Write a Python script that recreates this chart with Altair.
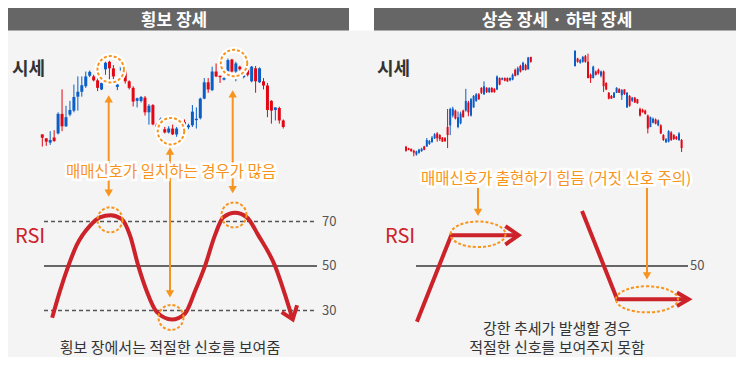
import altair as alt
import pandas as pd
import numpy as np

# ---------------- data ----------------
# Left panel (sideways market): candle index and OHLC (price units)
L_T = list(range(0, 35)) + list(range(36, 62))
L_OPEN = [13.3, 9.3, 11, 10, 37.7, 25, 34.3, 41.7, 55, 60.3, 67, 76, 80.7, 72, 64.3, 69.3, 90, 84.3, 76, 67.7, 86,
          71, 64.3, 50.3, 53.7, 55, 39.3, 46, 27, 24.3, 32.7, 18.7, 22.7, 16.7, 22.7,
          24.3, 26, 40, 32.7, 53.3, 70,
          62.7, 81, 76, 75.3, 74.3, 92.7, 81, 89.3, 83.3, 77, 77.7, 86, 71, 84.3, 66.7, 41.7, 41, 44.3, 31, 24.3]
L_CLOSE = [16.7, 12.7, 8.3, 13.5, 17.7, 37.7, 25, 37, 41, 55.3, 60.3, 66, 76.7, 76, 72, 62.7, 83.3, 91, 84.3, 65.3, 82,
           83.3, 71, 64.3, 51, 51, 54.3, 39.3, 46.7, 26.7, 31, 22, 18.7, 22.7, 16.7,
           29.3, 24, 26, 31.3, 33.3, 53.3,
           70, 62, 81, 76.7, 72.7, 81, 93.3, 81, 86, 75.3, 86, 71, 84.3, 70, 71, 66.7, 51, 41.7, 43.7, 31]
L_HIGH = [16.7, 12.7, 20, 21, 39.3, 62.7, 46, 51, 67.7, 76, 76, 81, 82, 77.7, 74.3, 72.7, 91, 92, 87.7, 68.7, 87,
          84.3, 72, 66, 54.3, 56, 56, 47.7, 47.7, 28, 34, 24.3, 25, 26.7, 24.3,
          32, 27.7, 46.7, 44.3, 54.3, 74.3,
          74.3, 86, 89.3, 76.7, 75, 94.3, 94, 91, 87, 78, 87.7, 86.7, 86.7, 85.3, 74.3, 69.3, 51.7, 44.3, 45, 32]
L_LOW = [4.3, 5, 6, 9, 16.7, 20, 24.3, 35.3, 39.3, 41, 55.3, 64.3, 75.3, 71, 61, 62, 77.7, 71, 71, 62, 79,
         68.7, 62.7, 45.3, 44.3, 49.3, 36, 26.7, 26, 23, 30, 17.7, 17.7, 16, 14.3,
         22.7, 22, 24.3, 22.7, 32, 52.7,
         59.3, 61, 75.3, 69.3, 72, 79.3, 80, 71, 82, 74, 76, 70, 59.3, 69.3, 62.7, 34.3, 27.7, 31, 27.7, 22.7]

# Right panel (trending market): up-trend candles then down-trend candles
R_K = list(range(0, 49)) + list(range(65, 107))
R_OPEN = [10, 11, 9.5, 8, 9.3, 11, 12, 11, 21, 20, 23.3, 26.7, 22.7, 22, 19.3, 20, 26, 52.7, 53, 43, 44.3, 48, 44.3,
          61, 49.3, 62.7, 66, 67.7, 62.7, 69.3, 76, 70, 74, 70, 70, 86, 77.7, 84.3, 81.7, 81, 84.3, 87.7, 86.7, 94.3,
          91, 100, 92.7, 105.3, 101,
          112, 101, 102.7, 106, 101, 84.3, 84.3, 96, 87.7, 89.3, 91, 76, 72.7, 63.3, 63.3, 69.3, 74.3, 69.3, 72, 68,
          69.3, 56, 64.3, 59.3, 58.7, 46, 49.3, 47.7, 32.7, 44.3, 42.7, 37.7, 41, 27.7, 21, 21.7, 30, 21, 22, 22,
          27.7, 12.7]
R_CLOSE = [14, 12.5, 12, 10, 6, 8, 9.5, 14.3, 14.3, 17, 19, 22.7, 27.7, 26, 23.3, 22.7, 34.3, 36, 46, 51, 34.3, 38,
           51, 51, 59.3, 46, 54.3, 61, 67.7, 74.3, 67.7, 74.3, 70, 74.3, 73.3, 72.7, 84.3, 82.7, 84.3, 84.3, 82,
           82.7, 92.7, 87.7, 96.7, 92.7, 97.7, 93.3, 106,
           96.7, 104.3, 100, 101, 106.7, 101, 87.7, 84.3, 91, 92.7, 86.7, 91, 79.3, 69.3, 66, 64.3, 69.3, 73, 66.7,
           72.7, 54.3, 66, 61, 64.3, 62.7, 52.7, 52, 51, 46, 34.3, 38.7, 42, 36, 36, 26, 18.7, 19.3, 28.7, 26, 24.3,
           21, 21]
R_HIGH = [15, 13, 12, 11, 10, 12, 13, 15, 23, 21, 25, 28, 29, 27, 24, 24, 52.7, 54, 55, 52, 50, 50, 52, 73.3, 61,
          64, 67, 69, 69, 75, 81, 75, 75, 75, 74, 87, 85, 85, 85, 85, 85, 89, 94, 96, 98, 101, 99, 106, 106,
          113, 105, 104, 107, 108, 109.3, 89, 97, 92, 94, 92, 92, 80, 70, 67, 70, 75, 74, 73, 73, 70, 67, 65, 65,
          63, 54, 53, 52, 47, 45, 44, 43, 42, 37, 27, 23, 31, 30, 27, 25, 29, 22]
R_LOW = [9, 10.5, 9, 4.3, 5, 7, 9, 10.5, 14, 16, 18, 22, 19.3, 20, 19, 19, 12.7, 26, 44, 42, 33, 37, 44, 50, 45.3,
         45, 54, 60, 62, 68, 67, 69, 69, 69.3, 69.3, 72, 77, 82, 81, 80.5, 81, 82, 86, 87, 90, 92, 92, 93, 100,
         96, 100, 99, 100, 100, 84, 79.3, 84, 87, 88, 85, 70, 72, 62.5, 63, 64, 69, 69, 62, 67, 54, 55, 60, 59,
         58, 45, 49, 47, 27.7, 34, 38, 37, 35, 27, 20, 18, 18.5, 20, 21, 21, 20, 8.7]

# RSI curve of the left panel (on the candle index axis)
RSI_L_T = [2.5, 4.5, 6.6, 8.7, 12.1, 14.6, 17.3, 20.1, 22.2, 24.3, 26.4, 29.0, 32.8, 36.1, 38.7, 41.2,
           43.7, 45.8, 48.8, 51.8, 54.7, 58.9, 61.4, 63.4]
RSI_L_V = [26.8, 39.0, 50.1, 59.4, 68.2, 71.9, 72.9, 71.1, 63.8, 50.1, 38.9, 29.3, 26.0, 28.6, 38.9, 50.1,
           63.8, 71.9, 74.0, 71.9, 63.8, 50.1, 37.4, 26.0]
RSI_L_HEAD_T = [60.6, 63.4, 64.5]
RSI_L_HEAD_V = [29.3, 26.0, 32.4]

# RSI of the right panel: rising line that goes flat, falling line that goes flat
RSI_R_K = [4.2, 17.4, 43.3, 38.2, 43.3, 38.2, 67.7, 81.2, 108.7, 104.2, 108.7, 104.2]
RSI_R_V = [25.0, 63.9, 63.9, 68.0, 63.9, 59.7, 74.8, 35.1, 35.1, 38.1, 35.1, 32.0]
RSI_R_SEG = [0, 0, 0, 1, 1, 1, 2, 2, 2, 3, 3, 3]

RSI_LEVELS = [70, 50, 30]

# texts
HEADERS = ["횡보 장세", "상승 장세 · 하락 장세"]
PRICE_LABEL = "시세"
RSI_LABEL = "RSI"
NOTE_LEFT = "매매신호가 일치하는 경우가 많음"
NOTE_RIGHT = "매매신호가 출현하기 힘듬 (거짓 신호 주의)"
BOTTOM_LEFT = ["횡보 장에서는 적절한 신호를 보여줌"]
BOTTOM_RIGHT = ["강한 추세가 발생할 경우", "적절한 신호를 보여주지 못함"]

# ---------------- styling / layout ----------------
FONT = "Noto Sans CJK KR"
RED, BLUE = "#e30613", "#0a5ec8"
RSI_RED, ORANGE = "#cc2229", "#f7941d"
BG, HEADER_C, DARK, GRID = "#f4f4f4", "#666666", "#333333", "#555555"
W, H = 728, 349

# picture frame (pixel grid of the reference), used for annotations
Y_TOP, Y_BOT = 4, 361
XL = alt.Scale(domain=[8, 736], nice=False, zero=False)
YL = alt.Scale(domain=[Y_TOP, Y_BOT], reverse=True, nice=False, zero=False)
# data scales aligned to that frame
LT0, LDT = 42.3, 3.95
RT0, RDT = 406.0, 2.6
LTX = alt.Scale(domain=[(8 - LT0) / LDT, (736 - LT0) / LDT], nice=False, zero=False)
RTX = alt.Scale(domain=[(8 - RT0) / RDT, (736 - RT0) / RDT], nice=False, zero=False)
LPY = alt.Scale(domain=[150 - Y_BOT, 150 - Y_TOP], nice=False, zero=False)
RPY = alt.Scale(domain=[160 - Y_BOT, 160 - Y_TOP], nice=False, zero=False)
RSIY = alt.Scale(domain=[50 + (268 - Y_BOT) / 2.275, 50 + (268 - Y_TOP) / 2.275], nice=False, zero=False)


def fx(f, s=XL):
    return alt.X(f"{f}:Q", scale=s, axis=None)


def fy(f, s=YL):
    return alt.Y(f"{f}:Q", scale=s, axis=None)


layers = []

# headers
hdr = pd.DataFrame({"x": [8, 374, 349], "x2": [349, 736, 374], "y": [Y_TOP] * 3, "y2": [27, 27, 27],
                    "c": [HEADER_C, HEADER_C, "#ffffff"]})
layers.append(alt.Chart(hdr).mark_rect().encode(x=fx("x"), x2="x2", y=fy("y"), y2="y2",
                                                 color=alt.Color("c:N", scale=None)))
hdr_t = pd.DataFrame({"x": [174, 557], "y": [17, 17], "text": HEADERS})
layers.append(alt.Chart(hdr_t).mark_text(font=FONT, fontSize=17, fontWeight="bold", color="white",
                                         baseline="middle").encode(x=fx("x"), y=fy("y"), text="text:N"))

# side labels
lab = pd.DataFrame({"x": [12, 377], "y": [67, 67], "text": [PRICE_LABEL, PRICE_LABEL]})
layers.append(alt.Chart(lab).mark_text(font=FONT, fontSize=18, fontWeight="bold", color=DARK, align="left",
                                       baseline="middle").encode(x=fx("x"), y=fy("y"), text="text:N"))
rlab = pd.DataFrame({"x": [15, 385], "y": [238, 238], "text": [RSI_LABEL, RSI_LABEL]})
layers.append(alt.Chart(rlab).mark_text(font=FONT, fontSize=20, color=RSI_RED, align="left",
                                        baseline="middle").encode(x=fx("x"), y=fy("y"), text="text:N"))

# RSI reference lines
lv = pd.DataFrame({"level": RSI_LEVELS, "t1": [(44 - LT0) / LDT] * 3, "t2": [(317 - LT0) / LDT] * 3,
                   "lbl": [str(v) for v in RSI_LEVELS], "tl": [(322 - LT0) / LDT] * 3})
layers.append(alt.Chart(lv[lv.level != 50]).mark_rule(color=GRID, strokeWidth=1.5, strokeDash=[4, 3]).encode(
    x=fx("t1", LTX), x2="t2", y=fy("level", RSIY)))
layers.append(alt.Chart(lv[lv.level == 50]).mark_rule(color="#666666", strokeWidth=2).encode(
    x=fx("t1", LTX), x2="t2", y=fy("level", RSIY)))
layers.append(alt.Chart(lv).mark_text(font=FONT, fontSize=13, color=GRID, align="left", baseline="middle").encode(
    x=fx("tl", LTX), y=fy("level", RSIY), text="lbl:N"))
rv = pd.DataFrame({"level": [50], "k1": [(416 - RT0) / RDT], "k2": [(688 - RT0) / RDT],
                   "kl": [(690 - RT0) / RDT], "lbl": ["50"]})
layers.append(alt.Chart(rv).mark_rule(color="#666666", strokeWidth=2).encode(
    x=fx("k1", RTX), x2="k2", y=fy("level", RSIY)))
layers.append(alt.Chart(rv).mark_text(font=FONT, fontSize=13, color=GRID, align="left", baseline="middle").encode(
    x=fx("kl", RTX), y=fy("level", RSIY), text="lbl:N"))

# candles
cscale = alt.Scale(domain=["up", "down"], range=[RED, BLUE])
ldf = pd.DataFrame({"t": L_T, "open": L_OPEN, "high": L_HIGH, "low": L_LOW, "close": L_CLOSE})
ldf["dir"] = np.where(ldf["close"] >= ldf["open"], "up", "down")
rdf = pd.DataFrame({"t": R_K, "open": R_OPEN, "high": R_HIGH, "low": R_LOW, "close": R_CLOSE})
rdf["dir"] = np.where(rdf["close"] >= rdf["open"], "up", "down")
for df, xs, ys, bw in [(ldf, LTX, LPY, 3), (rdf, RTX, RPY, 2)]:
    col = alt.Color("dir:N", scale=cscale, legend=None)
    layers.append(alt.Chart(df).mark_rule(strokeWidth=1).encode(x=fx("t", xs), y=fy("low", ys), y2="high",
                                                                  color=col))
    layers.append(alt.Chart(df).mark_rule(strokeWidth=bw).encode(x=fx("t", xs), y=fy("open", ys), y2="close",
                                                                   color=col))

# circles around the price turns
pc = pd.DataFrame({"x": [110.7, 171, 234], "y": [66.7, 130, 60.3]})
layers.append(alt.Chart(pc).mark_point(shape="circle", size=700, filled=False, color="white", strokeWidth=6,
                                       opacity=1).encode(x=fx("x"), y=fy("y")))
layers.append(alt.Chart(pc).mark_point(shape="circle", size=700, filled=False, color=ORANGE, strokeWidth=2,
                                       strokeDash=[3, 2], opacity=1).encode(x=fx("x"), y=fy("y")))

# RSI lines
rl = pd.DataFrame({"t": RSI_L_T, "v": RSI_L_V})
layers.append(alt.Chart(rl).mark_line(color=RSI_RED, strokeWidth=4, interpolate="monotone").encode(
    x=fx("t", LTX), y=fy("v", RSIY)))
rh = pd.DataFrame({"t": RSI_L_HEAD_T, "v": RSI_L_HEAD_V, "o": [0, 1, 2]})
layers.append(alt.Chart(rh).mark_line(color=RSI_RED, strokeWidth=4, strokeJoin="miter").encode(
    x=fx("t", LTX), y=fy("v", RSIY), order="o:Q"))
rr = pd.DataFrame({"k": RSI_R_K, "v": RSI_R_V, "seg": RSI_R_SEG, "o": list(range(len(RSI_R_K)))})
layers.append(alt.Chart(rr).mark_line(color=RSI_RED, strokeWidth=4, strokeJoin="miter").encode(
    x=fx("k", RTX), y=fy("v", RSIY), detail="seg:N", order="o:Q"))

# circles on RSI
rc = pd.DataFrame({"x": [110, 171, 234], "y": [220.7, 320.5, 215.7]})
layers.append(alt.Chart(rc).mark_point(shape="circle", size=625, filled=False, color=ORANGE, strokeWidth=2,
                                       strokeDash=[3, 2], opacity=1).encode(x=fx("x"), y=fy("y")))
ELL1 = "M -1 0 A 1 0.465 0 1 1 1 0 A 1 0.465 0 1 1 -1 0 Z"
ELL2 = "M -1 0 A 1 0.42 0 1 1 1 0 A 1 0.42 0 1 1 -1 0 Z"
for ex, ey, shp, sz in [(478, 235.5, ELL1, 3025), (647, 302, ELL2, 3844)]:
    e = pd.DataFrame({"x": [ex], "y": [ey]})
    layers.append(alt.Chart(e).mark_point(shape=shp, size=sz, filled=False, color=ORANGE, strokeWidth=2,
                                          strokeDash=[3, 2], opacity=1).encode(x=fx("x"), y=fy("y")))

# orange arrows
arr = pd.DataFrame({
    "x": [108.7, 108.7, 170, 170, 232.7, 232.7, 478, 647],
    "y0": [164, 178, 164, 178, 164, 178, 188, 188],
    "tip": [93.3, 197, 146.7, 300, 88.3, 193.3, 216.7, 281.7],
})
arr["up"] = arr["tip"] < arr["y0"]
arr["yc"] = np.where(arr["up"], arr["tip"] + 3.6, arr["tip"] - 3.6)
arr["y1"] = np.where(arr["up"], arr["tip"] + 5, arr["tip"] - 5)
layers.append(alt.Chart(arr).mark_rule(color=ORANGE, strokeWidth=2).encode(x=fx("x"), y=fy("y0"), y2="y1"))
layers.append(alt.Chart(arr[arr.up]).mark_point(shape="triangle-up", size=70, filled=True, color=ORANGE,
                                                opacity=1).encode(x=fx("x"), y=fy("yc")))
layers.append(alt.Chart(arr[~arr.up]).mark_point(shape="triangle-down", size=70, filled=True, color=ORANGE,
                                                 opacity=1).encode(x=fx("x"), y=fy("yc")))

# orange notes with white outline
notes = pd.DataFrame({"x": [171, 556], "y": [171.5, 179], "text": [NOTE_LEFT, NOTE_RIGHT]})
layers.append(alt.Chart(notes).mark_text(font=FONT, fontSize=15.5, color="white", stroke="white", strokeWidth=5,
                                         baseline="middle").encode(x=fx("x"), y=fy("y"), text="text:N"))
layers.append(alt.Chart(notes).mark_text(font=FONT, fontSize=15.5, color=ORANGE, baseline="middle").encode(
    x=fx("x"), y=fy("y"), text="text:N"))

# bottom captions
bt = pd.DataFrame({"x": [170, 557, 557], "y": [352, 332, 352], "text": BOTTOM_LEFT + BOTTOM_RIGHT})
layers.append(alt.Chart(bt).mark_text(font=FONT, fontSize=15, color=DARK, baseline="middle").encode(
    x=fx("x"), y=fy("y"), text="text:N"))

chart = alt.layer(*layers).resolve_scale(x="independent", y="independent", color="independent").properties(
    width=W, height=H, background=BG, padding=0, autosize=alt.AutoSizeParams(type="none")
).configure_view(strokeWidth=0)

chart.save("out.html", embed_options={"renderer": "svg", "actions": False})
